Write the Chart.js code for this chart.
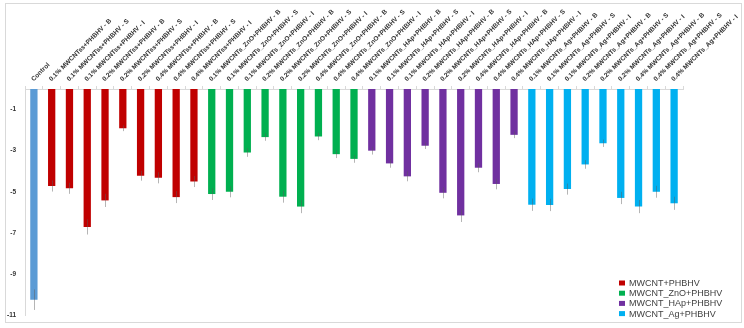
<!DOCTYPE html>
<html>
<head>
<meta charset="utf-8">
<script src="https://cdn.jsdelivr.net/npm/chart.js@4/dist/chart.umd.min.js"></script>
<style>
  body { margin: 0; background: #fff; }
  #wrap { position: absolute; left: 0; top: 0; width: 744px; height: 328px; }
  #frame { position: absolute; left: 5px; top: 3px; width: 735px; height: 318px; border: 1px solid #d9d9d9; pointer-events: none; }
</style>
</head>
<body>
<div id="wrap">
  <canvas id="chart" width="744" height="328"></canvas>
  <div id="frame"></div>
</div>
<script>
// group names used in the tick labels and in the legend
const groupNames = ["MWCNTss+PHBHV", "MWCNTs_ZnO+PHBHV", "MWCNTs_HAp+PHBHV", "MWCNTs_Ag+PHBHV"];
const legendNames = ["MWCNT+PHBHV", "MWCNT_ZnO+PHBHV", "MWCNT_HAp+PHBHV", "MWCNT_Ag+PHBHV"];
const levels = ["0.1%", "0.2%", "0.4%"];
const kinds = ["B", "S", "I"];

// values
const controlValue = [-10.25];
const controlError = [0.5];
const mwcntValues = [-4.72, -4.83, -6.71, -5.42, -1.91, -4.22, -4.32, -5.26, -4.5];
const mwcntErrors = [0.27, 0.27, 0.37, 0.32, 0.14, 0.24, 0.27, 0.29, 0.27];
const znoValues = [-5.11, -5.0, -3.09, -2.34, -5.24, -5.72, -2.31, -3.17, -3.4];
const znoErrors = [0.29, 0.27, 0.21, 0.18, 0.29, 0.32, 0.18, 0.19, 0.19];
const hapValues = [-3.0, -3.62, -4.25, -2.76, -5.05, -6.15, -3.83, -4.62, -2.23];
const hapErrors = [0.19, 0.21, 0.24, 0.16, 0.27, 0.32, 0.22, 0.26, 0.16];
const agValues = [-5.63, -5.64, -4.87, -3.67, -2.64, -5.3, -5.72, -5.0, -5.56];
const agErrors = [0.3, 0.3, 0.27, 0.21, 0.18, 0.3, 0.32, 0.29, 0.32];

const yTicks = [-11, -9, -7, -5, -3, -1];

const colors = ["#5B9BD5", "#C00000", "#00B050", "#7030A0", "#00B0F0"];

// build the category labels
const categories = ["Control"];
groupNames.forEach(g => {
  levels.forEach(l => {
    kinds.forEach(k => categories.push(l + " " + g + " - " + k));
  });
});

const groups = [
  { label: "Control", values: controlValue, errors: controlError },
  { label: legendNames[0], values: mwcntValues, errors: mwcntErrors },
  { label: legendNames[1], values: znoValues, errors: znoErrors },
  { label: legendNames[2], values: hapValues, errors: hapErrors },
  { label: legendNames[3], values: agValues, errors: agErrors }
];

let offset = 0;
const datasets = groups.map((g, i) => {
  const data = categories.map(() => null);
  const errs = categories.map(() => null);
  g.values.forEach((v, j) => { data[offset + j] = v; errs[offset + j] = g.errors[j]; });
  offset += g.values.length;
  return {
    label: g.label,
    data: data,
    errors: errs,
    backgroundColor: colors[i],
    borderWidth: 0,
    grouped: false,
    barPercentage: 0.41,
    categoryPercentage: 1.0
  };
});

// error bars drawn from the y scale
const errorBars = {
  id: "errorBars",
  afterDatasetsDraw(chart) {
    const ctx = chart.ctx;
    const y = chart.scales.y;
    ctx.save();
    ctx.strokeStyle = "rgba(90,90,90,0.45)";
    ctx.lineWidth = 1;
    chart.data.datasets.forEach((ds, i) => {
      const meta = chart.getDatasetMeta(i);
      meta.data.forEach((bar, j) => {
        const v = ds.data[j];
        if (v == null) return;
        const e = ds.errors[j];
        const x = Math.round(bar.x) + 0.5;
        ctx.beginPath();
        ctx.moveTo(x, y.getPixelForValue(v + e));
        ctx.lineTo(x, y.getPixelForValue(v - e));
        ctx.stroke();
      });
    });
    ctx.restore();
  }
};

// legend in the lower right corner, without the control series
const cornerLegend = {
  id: "cornerLegend",
  afterDraw(chart) {
    const ctx = chart.ctx;
    ctx.save();
    ctx.font = "9px 'Liberation Sans', Arial, sans-serif";
    ctx.textBaseline = "middle";
    chart.data.datasets.slice(1).forEach((ds, i) => {
      const cy = 283 + i * 10.2;
      ctx.fillStyle = ds.backgroundColor;
      ctx.fillRect(619, cy - 2.5, 6, 5);
      ctx.fillStyle = "#404040";
      ctx.fillText(ds.label, 629, cy + 0.5);
    });
    ctx.restore();
  }
};

const tickFont = { family: "'Liberation Sans', Arial, sans-serif", size: 6.5, weight: "bold" };

new Chart(document.getElementById("chart"), {
  type: "bar",
  data: { labels: categories, datasets: datasets },
  options: {
    responsive: false,
    animation: false,
    layout: { padding: { top: 3, left: 5, right: 61, bottom: 9 } },
    plugins: { legend: { display: false }, tooltip: { enabled: false } },
    scales: {
      x: {
        position: "top",
        offset: true,
        grid: { display: true, drawOnChartArea: false, tickLength: 3, color: "#d9d9d9", offset: true },
        border: { color: "#d9d9d9" },
        ticks: { autoSkip: false, minRotation: 45, maxRotation: 45, padding: 3, labelOffset: 4, color: "#333333", font: tickFont },
        afterFit(s) { s.height = 86; }
      },
      y: {
        min: -11,
        max: 0,
        grid: { display: false, drawTicks: false },
        border: { display: true, color: "#d9d9d9" },
        ticks: { padding: 9, color: "#333333", font: tickFont },
        afterBuildTicks(s) { s.ticks = yTicks.map(v => ({ value: v })); },
        afterFit(s) { s.width = 20; }
      }
    }
  },
  plugins: [errorBars, cornerLegend]
});
</script>
</body>
</html>
